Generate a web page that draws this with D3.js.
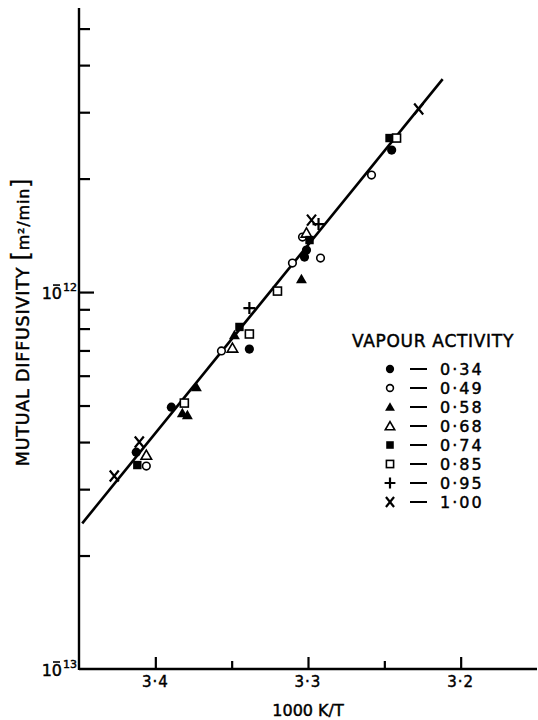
<!DOCTYPE html>
<html><head><meta charset="utf-8">
<script src="https://cdn.jsdelivr.net/npm/d3@7"></script>
<style>body{margin:0;background:#fff}svg{display:block}</style>
</head><body>
<svg id="chart" width="538" height="720"></svg>
<script>
// ---- data ----
const activities = ["0·34","0·49","0·58","0·68","0·74","0·85","0·95","1·00"];
const markers    = ["fcircle","ocircle","ftri","otri","fsquare","osquare","plus","x"];
// x = 1000 K/T, y = mutual diffusivity (m^2/min)
const s034x = [3.4125, 3.3895, 3.3384, 3.3010, 3.3023, 3.2452];
const s034y = [0.376e-12, 0.495e-12, 0.706e-12, 1.292e-12, 1.238e-12, 2.380e-12];
const s049x = [3.4059, 3.3567, 3.3036, 3.3102, 3.2918, 3.2584];
const s049y = [0.3455e-12, 0.698e-12, 1.399e-12, 1.194e-12, 1.231e-12, 2.043e-12];
const s058x = [3.3823, 3.3790, 3.3731, 3.3482, 3.3043];
const s058y = [0.4775e-12, 0.4718e-12, 0.560e-12, 0.769e-12, 1.083e-12];
const s068x = [3.4059, 3.3495, 3.3010];
const s068y = [0.369e-12, 0.710e-12, 1.434e-12];
const s074x = [3.4118, 3.3449, 3.2990, 3.2466];
const s074y = [0.3476e-12, 0.808e-12, 1.374e-12, 2.562e-12];
const s085x = [3.3810, 3.3384, 3.3200, 3.2420];
const s085y = [0.5076e-12, 0.774e-12, 1.006e-12, 2.562e-12];
const s095x = [3.3384, 3.2931];
const s095y = [0.907e-12, 1.515e-12];
const s100x = [3.4269, 3.4105, 3.2977, 3.2275];
const s100y = [0.325e-12, 0.400e-12, 1.552e-12, 3.059e-12];
const fitX = [3.4479, 3.2118];
const fitY = [0.2434e-12, 3.673e-12];
const xMajor = [3.4, 3.3, 3.2];
const xMajorLabels = ["3·4", "3·3", "3·2"];
const xMinor = [3.35, 3.25];
const yMinor = [2e-13,3e-13,4e-13,5e-13,6e-13,7e-13,8e-13,9e-13,2e-12,3e-12,4e-12,5e-12];
const yMajor = [1e-13, 1e-12];
const yMajorExp = ["13", "12"];
const xTitle = "1000 K/T";
const yTitle = "MUTUAL DIFFUSIVITY";
const yUnit = "m²/min";
const legendTitle = "VAPOUR ACTIVITY";

const seriesX = [s034x,s049x,s058x,s068x,s074x,s085x,s095x,s100x];
const seriesY = [s034y,s049y,s058y,s068y,s074y,s085y,s095y,s100y];

// ---- chart ----
const svg = d3.select("#chart");
const FONT = "DejaVu Sans, sans-serif";
const x = d3.scaleLinear().domain([3.45, 3.15]).range([79, 537]);
const y = d3.scaleLog().domain([1e-13, 5.67e-12]).range([669, 8]);

function txt(sel) {
  return sel.attr("font-family", FONT).attr("fill", "#000").attr("stroke", "#000").attr("stroke-width", 0.45);
}

// axes (ticks point inward)
svg.append("g").attr("transform", "translate(0,669)")
  .call(d3.axisBottom(x).tickValues(xMajor).tickSize(-12).tickFormat(""));
svg.append("g").attr("transform", "translate(0,669)")
  .call(d3.axisBottom(x).tickValues(xMinor).tickSize(-8).tickFormat(""));
svg.append("g").attr("transform", "translate(79,0)")
  .call(d3.axisLeft(y).tickValues(yMinor).tickSize(-11).tickFormat(""));
svg.append("g").attr("transform", "translate(79,0)")
  .call(d3.axisLeft(y).tickValues([1e-12]).tickSize(-15).tickFormat(""));
svg.selectAll(".domain").remove();
svg.selectAll(".tick line").attr("stroke", "#000").attr("stroke-width", 2.2);
svg.append("line").attr("x1", x(3.45)).attr("x2", x(3.15)).attr("y1", y(1e-13)).attr("y2", y(1e-13))
  .attr("stroke", "#000").attr("stroke-width", 2.4);
svg.append("line").attr("x1", x(3.45)).attr("x2", x(3.45)).attr("y1", y(1e-13) + 1).attr("y2", y(5.67e-12))
  .attr("stroke", "#000").attr("stroke-width", 2.4);

// x tick labels
svg.selectAll(".xlab").data(xMajor).enter().append("text")
  .attr("x", d => x(d)).attr("y", 687).attr("text-anchor", "middle")
  .attr("font-size", 15).attr("letter-spacing", 1).call(txt)
  .text((d, i) => xMajorLabels[i]);
svg.append("text").attr("x", x(3.3)).attr("y", 716).attr("text-anchor", "middle")
  .attr("font-size", 16).call(txt).text(xTitle);

// y decade labels: "10" with the minus set over the 0, exponent raised
yMajor.forEach((v, i) => {
  const yy = y(v);
  svg.append("text").attr("x", 62).attr("y", yy + 7).attr("text-anchor", "end")
    .attr("font-size", 16).call(txt).text("10");
  svg.append("line").attr("x1", 53).attr("x2", 60).attr("y1", yy - 7).attr("y2", yy - 7)
    .attr("stroke", "#000").attr("stroke-width", 1.6);
  svg.append("text").attr("x", 63).attr("y", yy - 1)
    .attr("font-size", 11).call(txt).text(yMajorExp[i]);
});

// y title
const yt = svg.append("text").attr("transform", "translate(29,322) rotate(-90)")
  .attr("text-anchor", "middle").attr("font-size", 17.5).attr("letter-spacing", 0.8).call(txt);
yt.append("tspan").text(yTitle + "  ");
yt.append("tspan").attr("font-size", 24).attr("stroke-width", 0.3).text("[");
yt.append("tspan").attr("font-size", 16).text(yUnit);
yt.append("tspan").attr("font-size", 24).attr("stroke-width", 0.3).text("]");

// fitted line
svg.append("path").datum(fitX.map((d, i) => [d, fitY[i]]))
  .attr("d", d3.line().x(d => x(d[0])).y(d => y(d[1])))
  .attr("stroke", "#000").attr("stroke-width", 2.6).attr("fill", "none");

// marker drawing
function drawMarker(g, type, cx, cy, s) {
  if (type === "fcircle") g.append("circle").attr("cx", cx).attr("cy", cy).attr("r", 4.6*s).attr("fill", "#000");
  else if (type === "ocircle") g.append("circle").attr("cx", cx).attr("cy", cy).attr("r", 3.8*s).attr("fill", "#fff").attr("stroke", "#000").attr("stroke-width", 1.6);
  else if (type === "ftri") g.append("path").attr("transform", `translate(${cx},${cy+1})`).attr("d", d3.symbol(d3.symbolTriangle, 52*s*s)()).attr("fill", "#000");
  else if (type === "otri") g.append("path").attr("transform", `translate(${cx},${cy+1})`).attr("d", d3.symbol(d3.symbolTriangle, 48*s*s)()).attr("fill", "#fff").attr("stroke", "#000").attr("stroke-width", 1.6);
  else if (type === "fsquare") g.append("rect").attr("x", cx-4.2*s).attr("y", cy-4.2*s).attr("width", 8.4*s).attr("height", 8.4*s).attr("fill", "#000");
  else if (type === "osquare") g.append("rect").attr("x", cx-4*s).attr("y", cy-4*s).attr("width", 8*s).attr("height", 8*s).attr("fill", "#fff").attr("stroke", "#000").attr("stroke-width", 1.6);
  else if (type === "plus") g.append("path").attr("d", `M${cx-6*s},${cy}H${cx+6*s}M${cx},${cy-6*s}V${cy+6*s}`).attr("stroke", "#000").attr("stroke-width", 2.2).attr("fill", "none");
  else if (type === "x") g.append("path").attr("d", `M${cx-4.5*s},${cy-5.5*s}L${cx+4.5*s},${cy+5.5*s}M${cx+4.5*s},${cy-5.5*s}L${cx-4.5*s},${cy+5.5*s}`).attr("stroke", "#000").attr("stroke-width", 2.2).attr("fill", "none");
}

const gp = svg.append("g");
seriesX.forEach((xs, si) => {
  xs.forEach((xv, j) => drawMarker(gp, markers[si], x(xv), y(seriesY[si][j]), 1));
});

// legend
svg.append("text").attr("x", 352).attr("y", 347).attr("font-size", 17)
  .attr("letter-spacing", 0.7).call(txt).text(legendTitle);
const gl = svg.append("g");
activities.forEach((a, i) => {
  const cy = 369 + i * 19;
  drawMarker(gl, markers[i], 390, cy, 0.9);
  gl.append("line").attr("x1", 410).attr("x2", 427).attr("y1", cy).attr("y2", cy).attr("stroke", "#000").attr("stroke-width", 2);
  gl.append("text").attr("x", 440).attr("y", cy + 6).attr("font-size", 16)
    .attr("letter-spacing", 2).call(txt).text(a);
});
</script>
</body></html>
